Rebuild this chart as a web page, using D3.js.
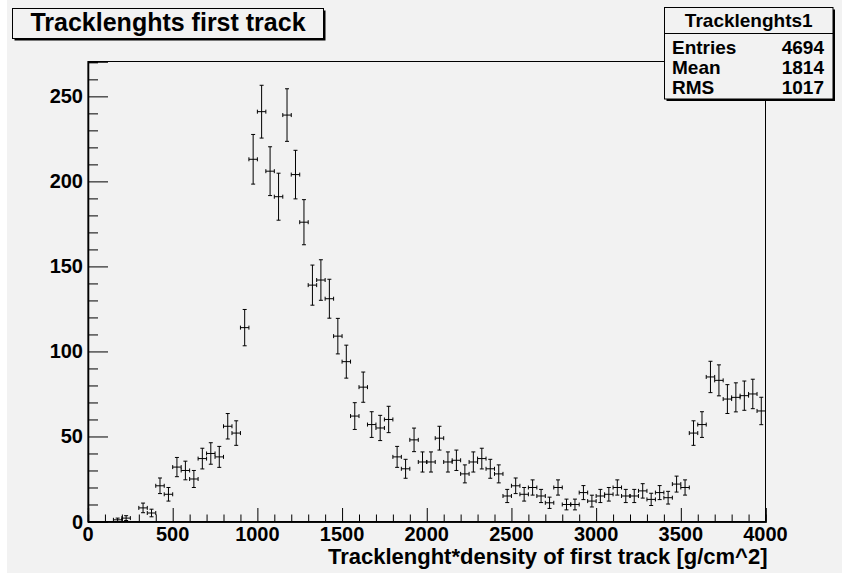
<!DOCTYPE html>
<html>
<head>
<meta charset="utf-8">
<script src="https://cdn.jsdelivr.net/npm/d3@7"></script>
<style>
  html, body { margin: 0; padding: 0; background: #ffffff; }
  svg { display: block; }
  text { font-family: "Liberation Sans", Arial, Helvetica, sans-serif; font-weight: bold; fill: #000; }
</style>
</head>
<body>
<svg id="chart" width="842" height="573"></svg>
<script>
// ---------- data ----------
const titleText = "Tracklenghts first track";
const xAxisTitle = "Tracklenght*density of first track [g/cm^2]";
const statsName = "Tracklenghts1";
const statsLabels = ["Entries", "Mean", "RMS"];
const statsValues = ["4694", "1814", "1017"];

const binWidth = 50;
const binLow = [150, 200, 250, 300, 350, 400, 450, 500, 550, 600, 650, 700, 750, 800, 850,
  900, 950, 1000, 1050, 1100, 1150, 1200, 1250, 1300, 1350, 1400, 1450, 1500, 1550, 1600,
  1650, 1700, 1750, 1800, 1850, 1900, 1950, 2000, 2050, 2100, 2150, 2200, 2250, 2300, 2350,
  2400, 2450, 2500, 2550, 2600, 2650, 2700, 2750, 2800, 2850, 2900, 2950, 3000, 3050, 3100,
  3150, 3200, 3250, 3300, 3350, 3400, 3450, 3500, 3550, 3600, 3650, 3700, 3750, 3800, 3850,
  3900, 3950];
const counts = [1, 2, 0, 8, 5, 21, 16, 32, 30, 25, 37, 40, 38, 56, 52,
  114, 213, 241, 206, 191, 239, 204, 176, 139, 142, 131, 109, 94, 62, 79,
  57, 55, 60, 38, 31, 48, 35, 35, 49, 35, 36, 28, 35, 37, 31,
  28, 15, 21, 16, 20, 15, 11, 20, 10, 10, 17, 12, 15, 16, 20,
  15, 15, 18, 13, 17, 14, 22, 20, 52, 57, 85, 83, 72, 73, 74,
  75, 65];

const xMin = 0, xMax = 4000, yMin = 0, yMax = 270.5;
const xMajor = [0, 500, 1000, 1500, 2000, 2500, 3000, 3500, 4000];
const yMajor = [0, 50, 100, 150, 200, 250];

// ---------- layout ----------
const svg = d3.select("#chart");
const W = 842, H = 573;
const plot = { left: 88, right: 765.5, top: 61.5, bottom: 521.5 };
const bg = "#f2f2f2";

svg.append("rect").attr("x", 0).attr("y", 0).attr("width", W).attr("height", H).attr("fill", "#ffffff");
svg.append("rect").attr("x", 7).attr("y", 0).attr("width", W - 7).attr("height", H).attr("fill", bg);

const x = d3.scaleLinear().domain([xMin, xMax]).range([plot.left, plot.right]);
const y = d3.scaleLinear().domain([yMin, yMax]).range([plot.bottom, plot.top]);

// frame
svg.append("rect")
  .attr("x", plot.left).attr("y", plot.top)
  .attr("width", plot.right - plot.left).attr("height", plot.bottom - plot.top)
  .attr("fill", bg).attr("stroke", "#000").attr("stroke-width", 1);

// ---------- axes ----------
const xMinor = d3.range(xMin, xMax + 1, 100).filter(v => !xMajor.includes(v));
const yMinor = d3.range(yMin, yMax, 10).filter(v => !yMajor.includes(v));

const xAxisMajor = d3.axisTop(x).tickValues(xMajor).tickSize(13.5).tickFormat("");
const xAxisMinor = d3.axisTop(x).tickValues(xMinor).tickSize(7).tickFormat("");
const gx = svg.append("g").attr("transform", `translate(0,${plot.bottom})`);
gx.call(xAxisMajor);
gx.append("g").call(xAxisMinor);
gx.selectAll(".domain").attr("stroke", "#000").attr("stroke-width", 1.3);
gx.selectAll(".tick line").attr("stroke", "#000").attr("stroke-width", 1);

const yAxisMajor = d3.axisRight(y).tickValues(yMajor).tickSize(20).tickFormat("");
const yAxisMinor = d3.axisRight(y).tickValues(yMinor).tickSize(10).tickFormat("");
const gy = svg.append("g").attr("transform", `translate(${plot.left},0)`);
gy.call(yAxisMajor);
gy.append("g").call(yAxisMinor);
gy.selectAll(".domain").attr("stroke", "#000").attr("stroke-width", 1.3);
gy.selectAll(".tick line").attr("stroke", "#000").attr("stroke-width", 1);

// tick labels
svg.append("g").selectAll("text").data(xMajor).join("text")
  .attr("x", d => x(d)).attr("y", 541)
  .attr("text-anchor", "middle")
  .attr("font-size", 20)
  .text(d => d);

svg.append("g").selectAll("text").data(yMajor).join("text")
  .attr("x", 83).attr("y", d => y(d) + 7)
  .attr("text-anchor", "end")
  .attr("font-size", 20)
  .text(d => d);

// x-axis title
svg.append("text")
  .attr("x", plot.right + 2).attr("y", 564)
  .attr("text-anchor", "end")
  .attr("font-size", 22)
  .text(xAxisTitle);

// ---------- data (error bars) ----------
const pts = binLow.map((lo, i) => ({ lo: lo, hi: lo + binWidth, c: (lo + binWidth / 2), v: counts[i] }))
  .filter(d => d.v > 0);

const gData = svg.append("g").attr("stroke", "#000").attr("stroke-width", 1).attr("fill", "none");
const cap = 2;
pts.forEach(d => {
  const e = Math.sqrt(d.v);
  const xc = x(d.c), yv = y(d.v);
  const y0 = y(d.v - e), y1 = y(d.v + e);
  const xl = x(d.lo), xr = x(d.hi);
  const g = gData.append("g");
  // horizontal bar with end ticks
  g.append("line").attr("x1", xl).attr("x2", xr).attr("y1", yv).attr("y2", yv);
  g.append("line").attr("x1", xl).attr("x2", xl).attr("y1", yv - cap).attr("y2", yv + cap);
  g.append("line").attr("x1", xr).attr("x2", xr).attr("y1", yv - cap).attr("y2", yv + cap);
  // vertical error bar with caps
  g.append("line").attr("x1", xc).attr("x2", xc).attr("y1", y0).attr("y2", y1);
  g.append("line").attr("x1", xc - cap).attr("x2", xc + cap).attr("y1", y0).attr("y2", y0);
  g.append("line").attr("x1", xc - cap).attr("x2", xc + cap).attr("y1", y1).attr("y2", y1);
});

// ---------- title box ----------
const tb = { x: 12.5, y: 8.5, w: 311, h: 30 };
svg.append("rect").attr("x", tb.x + 2).attr("y", tb.y + 2).attr("width", tb.w).attr("height", tb.h).attr("fill", "#000");
svg.append("rect").attr("x", tb.x).attr("y", tb.y).attr("width", tb.w).attr("height", tb.h)
  .attr("fill", bg).attr("stroke", "#000").attr("stroke-width", 1);
svg.append("text")
  .attr("x", tb.x + tb.w / 2).attr("y", 31)
  .attr("text-anchor", "middle")
  .attr("font-size", 25)
  .text(titleText);

// ---------- stats box ----------
const sb = { x: 664.5, y: 7.5, w: 168.5, h: 91.5 };
svg.append("rect").attr("x", sb.x + 2).attr("y", sb.y + 2).attr("width", sb.w).attr("height", sb.h).attr("fill", "#000");
svg.append("rect").attr("x", sb.x).attr("y", sb.y).attr("width", sb.w).attr("height", sb.h)
  .attr("fill", bg).attr("stroke", "#000").attr("stroke-width", 1);
svg.append("line").attr("x1", sb.x).attr("x2", sb.x + sb.w).attr("y1", 33.5).attr("y2", 33.5)
  .attr("stroke", "#000").attr("stroke-width", 1);
svg.append("text")
  .attr("x", sb.x + sb.w / 2).attr("y", 27)
  .attr("text-anchor", "middle")
  .attr("font-size", 19)
  .text(statsName);
const rowY = [54, 74, 94];
svg.append("g").selectAll("text").data(statsLabels).join("text")
  .attr("x", 672).attr("y", (d, i) => rowY[i])
  .attr("font-size", 19)
  .text(d => d);
svg.append("g").selectAll("text").data(statsValues).join("text")
  .attr("x", 824).attr("y", (d, i) => rowY[i])
  .attr("text-anchor", "end")
  .attr("font-size", 19)
  .text(d => d);
</script>
</body>
</html>
